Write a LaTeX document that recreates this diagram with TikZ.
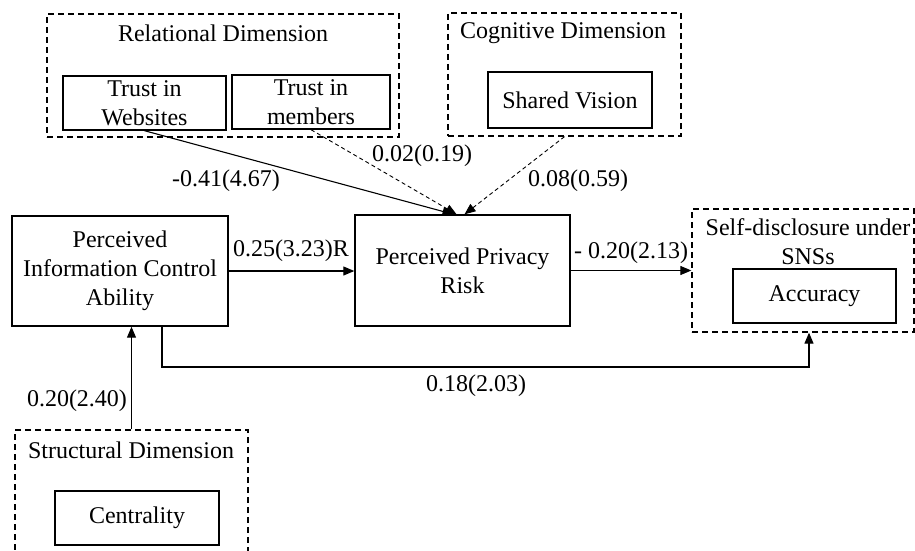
\documentclass[tikz,border=0pt]{standalone}
\usepackage{fontspec}
\setmainfont{Liberation Serif}
\usetikzlibrary{arrows.meta}
\begin{document}
\begin{tikzpicture}[x=1pt,y=-1pt,
  every node/.style={font=\fontsize{24}{29}\selectfont},
  solidbox/.style={draw,line width=1.4pt,inner sep=0pt,align=center},
  dashbox/.style={draw,line width=1.3pt,dash pattern=on 6pt off 4pt,inner sep=0pt},
  lbl/.style={inner sep=0pt},
  conn/.style={line width=1.1pt,-{Triangle[length=11pt,width=9pt]}},
  dconn/.style={conn,line width=0.9pt,dash pattern=on 4pt off 3pt}]
\useasboundingbox (0,0) rectangle (915,551);
\clip (0,0) rectangle (915,551);
% groups
\node[dashbox,minimum width=352pt,minimum height=123pt] (rel) at (223,75.5) {};
\node[lbl] (reltitle) at (223,33) {Relational Dimension};
\node[solidbox,minimum width=163pt,minimum height=54pt] (tw) at (144.5,103) {Trust in\\Websites};
\node[solidbox,minimum width=158pt,minimum height=54pt] (tm) at (311,102) {Trust in\\members};
\node[dashbox,minimum width=233pt,minimum height=123pt] (cog) at (564.5,74.5) {};
\node[lbl] (cogtitle) at (563,33) {Cognitive Dimension};
\node[solidbox,minimum width=164pt,minimum height=56pt] (sv) at (570,100) {Shared Vision};
\node[solidbox,minimum width=216pt,minimum height=110pt] (pica) at (120,271) {Perceived\\Information Control\\Ability};
\node[solidbox,minimum width=215pt,minimum height=111pt] (ppr) at (462.5,270.5) {Perceived Privacy\\Risk};
\node[dashbox,minimum width=222pt,minimum height=123pt] (sd) at (803,270.5) {};
\node[lbl,align=center] (sdtitle) at (808,242) {Self-disclosure under\\SNSs};
\node[solidbox,minimum width=163pt,minimum height=54pt] (acc) at (814.5,296) {Accuracy};
\node[dashbox,minimum width=233pt,minimum height=140pt] (st) at (131.5,500) {};
\node[lbl] (sttitle) at (131,450) {Structural Dimension};
\node[solidbox,minimum width=164pt,minimum height=54pt] (cen) at (137,518) {Centrality};
% connectors
\draw[conn] (pica.east) -- (pica.east -| ppr.west);
\node[lbl] (l1) at (291,251) {0.25(3.23)R};
\draw[conn] (ppr.east) -- (ppr.east -| sd.west);
\node[lbl] (l2) at (631,253) {- 0.20(2.13)};
\draw[conn] (tw.south) -- ([xshift=-9pt]ppr.north);
\node[lbl] (l3) at (226,181) {-0.41(4.67)};
\draw[dconn] (tm.south) -- ([xshift=-6pt]ppr.north);
\node[lbl] (l4) at (422,156) {0.02(0.19)};
\draw[dconn] (cog.south) -- ([xshift=2pt]ppr.north);
\node[lbl] (l5) at (578,181) {0.08(0.59)};
\coordinate (c1) at (162,367);
\coordinate (c2) at (809,367);
\draw[conn] (pica.south -| c1) -- (c1) -- (c2) -- (c2 |- sd.south);
\node[lbl] (l6) at (476,386) {0.18(2.03)};
\draw[conn] (st.north) -- (st.north |- pica.south);
\node[lbl] (l7) at (77,401) {0.20(2.40)};
\end{tikzpicture}
\end{document}
